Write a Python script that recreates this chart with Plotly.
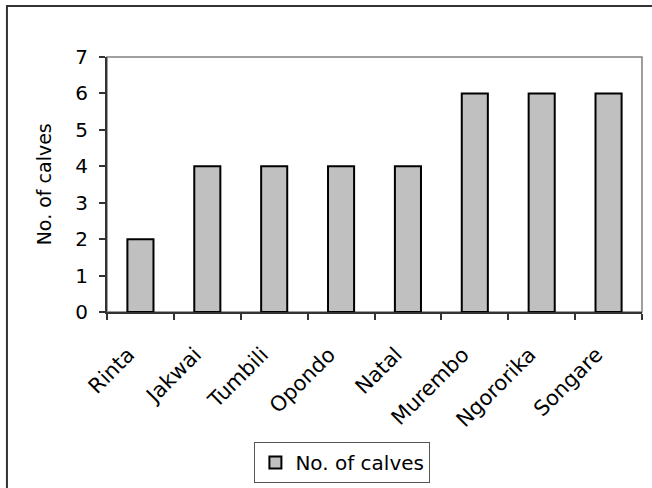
import plotly.graph_objects as go

# Calf counts per herd
herds = ["Rinta", "Jakwai", "Tumbili", "Opondo", "Natal", "Murembo", "Ngororika", "Songare"]
calves = [2, 4, 4, 4, 4, 6, 6, 6]
series_name = "No. of calves"
y_ticks = [0, 1, 2, 3, 4, 5, 6, 7]

FONT = "DejaVu Sans"
AXIS = "#333333"

fig = go.Figure()
fig.add_trace(go.Bar(
    x=herds,
    y=calves,
    name=series_name,
    marker=dict(color="#C0C0C0", line=dict(color="#000000", width=2)),
    showlegend=True,
))

fig.update_layout(
    width=652,
    height=488,
    margin=dict(l=107, r=10, t=57, b=176, autoexpand=False),
    paper_bgcolor="white",
    plot_bgcolor="white",
    bargap=0.61,
    font=dict(family=FONT, size=19, color="#000000"),
    showlegend=True,
    legend=dict(
        orientation="h",
        x=0.44, xanchor="center",
        y=-0.51, yanchor="top",
        bordercolor="#555555", borderwidth=1,
        font=dict(family=FONT, size=20),
        itemwidth=30,
        tracegroupgap=0,
    ),
    xaxis=dict(
        type="category",
        automargin=False,
        tickangle=-45,
        showline=True, linecolor=AXIS, linewidth=2,
        ticks="outside", tickson="boundaries", ticklen=6, tickcolor=AXIS, tickwidth=1.5,
        showgrid=False,
        ticklabelstandoff=20,
        ticklabelshift=-12,
        tickfont=dict(family=FONT, size=21),
    ),
    yaxis=dict(
        range=[0, 7],
        automargin=False,
        tickvals=y_ticks,
        showline=True, linecolor=AXIS, linewidth=2,
        ticks="outside", ticklen=6, tickcolor=AXIS, tickwidth=1.5,
        showgrid=False, zeroline=False,
        ticklabelstandoff=7,
        tickfont=dict(family=FONT, size=20),
    ),
    shapes=[
        # plot-area frame (top and right edges)
        dict(type="rect", xref="paper", yref="paper", x0=0, x1=1, y0=0, y1=1,
             line=dict(color="#808080", width=1.5), layer="below"),
        # outer chart border
        dict(type="rect", xref="paper", yref="paper",
             x0=-0.187, x1=1.05, y0=-0.75, y1=1.2,
             line=dict(color="#333333", width=2), layer="below"),
    ],
    annotations=[
        dict(text=series_name, xref="paper", yref="paper",
             x=-0.118, y=0.5, textangle=-90, showarrow=False,
             font=dict(family=FONT, size=19), xanchor="center", yanchor="middle"),
    ],
)

fig.write_html("out.html")
